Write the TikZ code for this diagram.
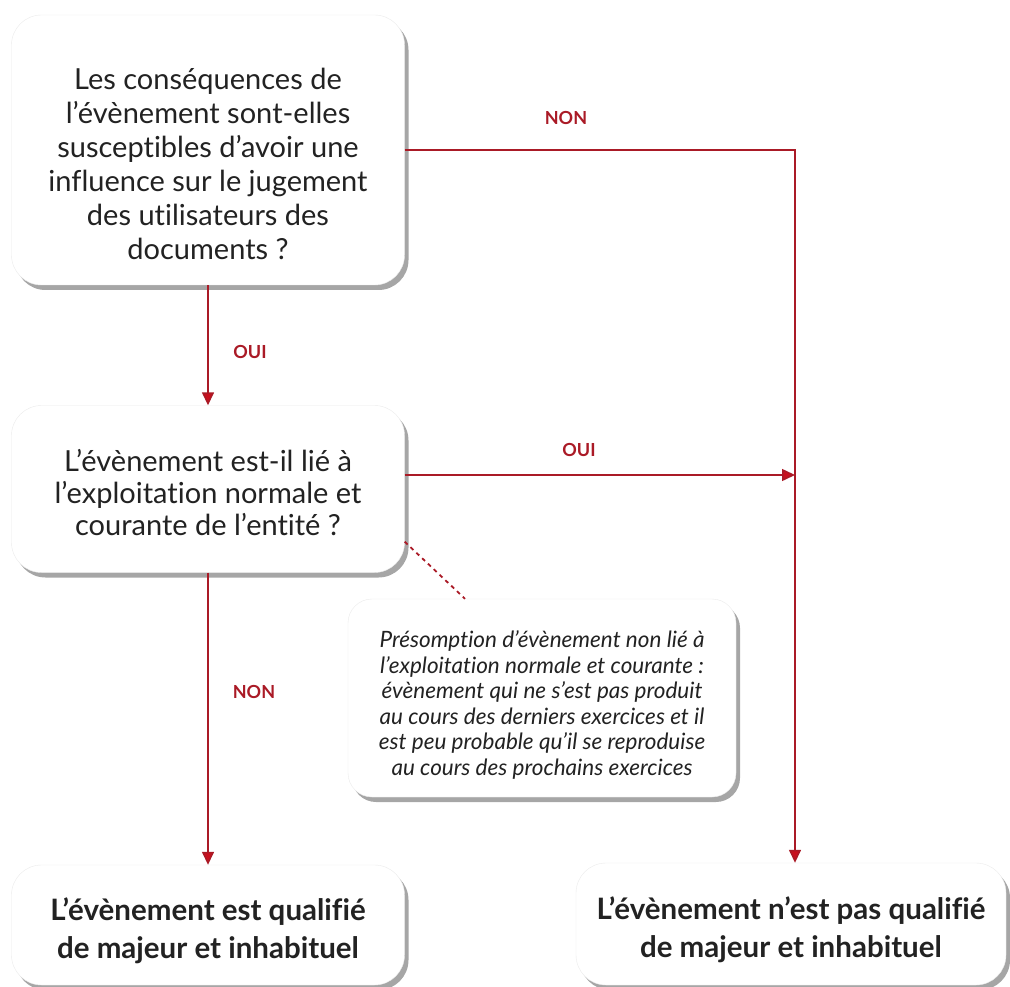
\documentclass[tikz,border=0pt]{standalone}
\usepackage{fontspec}
\setmainfont{Lato}[RawFeature={-liga;-clig;-calt;-dlig}]
\usetikzlibrary{arrows.meta,shadows}
\definecolor{flowred}{RGB}{170,26,38}
\definecolor{tipred}{RGB}{200,16,30}
\definecolor{boxtext}{RGB}{34,34,34}

\tikzset{
  qbox/.style={draw=black!8, fill=white, rounded corners=30pt,
    drop shadow={shadow xshift=4pt, shadow yshift=-5pt, opacity=0.35, fill=black}},
  qtext/.style={align=center, text=boxtext, inner sep=0pt, font=\fontsize{29}{34}\selectfont},
  rtext/.style={qtext, font=\bfseries\fontsize{29.5}{38}\selectfont},
  notetext/.style={qtext, font=\itshape\fontsize{22.5}{25.5}\selectfont},
  flow/.style={draw=flowred, line width=1.5pt},
  flowarrow/.style={flow, -{Triangle[length=13pt,width=12pt,fill=tipred]}},
  answer/.style={text=flowred, font=\bfseries\fontsize{18}{20}\selectfont}
}

\begin{document}
\begin{tikzpicture}[x=1pt,y=-1pt]
\useasboundingbox (0,0) rectangle (1010,987);

% questions
\node[qbox, minimum width=393pt, minimum height=270pt] (q1) at (208,150) {};
\node[qtext] (t1) at ([yshift=-14pt]q1.center)
  {Les conséquences de\\l’évènement sont-elles\\susceptibles d’avoir une\\influence sur le jugement\\des utilisateurs des\\documents ?};
\node[qbox, minimum width=393pt, minimum height=167pt] (q2) at (208,489) {};
\node[qtext, font=\fontsize{29}{32}\selectfont] (t2) at ([yshift=-4pt]q2.center)
  {L’évènement est-il lié à\\l’exploitation normale et\\courante de l’entité ?};

% remark
\node[qbox, rounded corners=24pt, minimum width=388pt, minimum height=198pt] (note) at (542,698) {};
\node[notetext] (tn) at ([yshift=-7pt]note.center)
  {Présomption d’évènement non lié à\\l’exploitation normale et courante :\\évènement qui ne s’est pas produit\\au cours des derniers exercices et il\\est peu probable qu’il se reproduise\\au cours des prochains exercices};

% outcomes
\node[qbox, minimum width=393pt, minimum height=120pt] (r1) at (208,925) {};
\node[rtext] (tr1) at ([yshift=-6pt]r1.center) {L’évènement est qualifié\\de majeur et inhabituel};
\node[qbox, minimum width=430pt, minimum height=122pt] (r2) at (791,924) {};
\node[rtext] (tr2) at ([yshift=-6pt]r2.center) {L’évènement n’est pas qualifié\\de majeur et inhabituel};

\coordinate (j) at (795,150);

% connectors
\draw[flowarrow] (q1.south) -- (q2.north);
\draw[flowarrow] (q1.east) -- (j) -- (j |- r2.north);
\draw[flowarrow] ([yshift=14pt]q2.east) -- ([yshift=14pt]q2.east -| j);
\draw[flowarrow] (q2.south) -- (r1.north);
\draw[flow, line width=1.8pt, dash pattern=on 4pt off 4pt] ([yshift=31pt]q2.south east) -- ([xshift=-77pt]note.north);

% answers
\node[answer] (a1) at (566,118) {NON};
\node[answer] (a2) at (250,352) {OUI};
\node[answer] (a3) at (579,450) {OUI};
\node[answer] (a4) at (254,692) {NON};
\end{tikzpicture}
\end{document}
